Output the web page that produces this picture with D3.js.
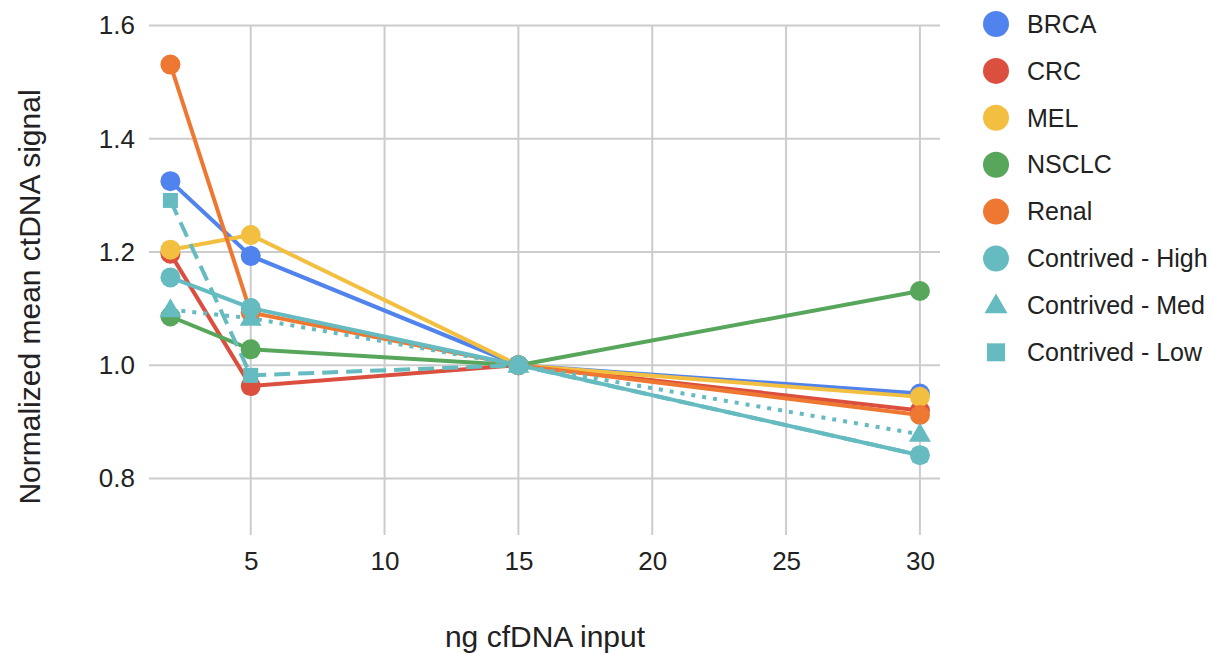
<!DOCTYPE html>
<html>
<head>
<meta charset="utf-8">
<script src="https://cdn.jsdelivr.net/npm/d3@7"></script>
<style>
  html, body { margin: 0; padding: 0; background: #fff; }
  svg { display: block; font-family: "Liberation Sans", Arial, sans-serif; }
</style>
</head>
<body>
<svg id="chart" width="1212" height="653"></svg>
<script>
const xValues = [2, 5, 15, 30];
const seriesNames = ["BRCA", "CRC", "MEL", "NSCLC", "Renal", "Contrived - High", "Contrived - Med", "Contrived - Low"];
const BRCA   = [1.325, 1.193, 1.0, 0.950];
const CRC    = [1.197, 0.963, 1.0, 0.920];
const MEL    = [1.204, 1.230, 1.0, 0.944];
const NSCLC  = [1.086, 1.028, 1.0, 1.131];
const Renal  = [1.531, 1.093, 1.0, 0.912];
const High   = [1.155, 1.101, 1.0, 0.841];
const Med    = [1.098, 1.083, 1.0, 0.878];
const Low    = [1.291, 0.982, 1.0, 0.841];
const seriesValues = [BRCA, CRC, MEL, NSCLC, Renal, High, Med, Low];
const colors = ["#5083ED", "#DB4F3F", "#F2BF40", "#57A65B", "#EE7731", "#66BBC1", "#66BBC1", "#66BBC1"];
const shapes = ["circle", "circle", "circle", "circle", "circle", "circle", "triangle", "square"];
const dashes = [null, null, null, null, null, null, "4,7", "16,8"];
const xTicks = [5, 10, 15, 20, 25, 30];
const yTicks = [0.8, 1.0, 1.2, 1.4, 1.6];
const xTitle = "ng cfDNA input";
const yTitle = "Normalized mean ctDNA signal";

(function () {
const FONT = "'Liberation Sans', Arial, sans-serif";
const svg = d3.select("#chart");
const pL = 149, pR = 940, pT = 25.5, pB = 535;
const x = d3.scaleLinear().domain([1.2, 30.75]).range([pL, pR]);
const y = d3.scaleLinear().domain([0.7, 1.6]).range([pB, pT]);

// grid
const grid = svg.append("g");
grid.selectAll("line.h").data(yTicks).join("line").attr("class", "h")
  .attr("x1", pL).attr("x2", pR)
  .attr("y1", d => y(d)).attr("y2", d => y(d))
  .attr("stroke", "#cccccc").attr("stroke-width", 2);
grid.selectAll("line.v").data(xTicks).join("line").attr("class", "v")
  .attr("x1", d => x(d)).attr("x2", d => x(d))
  .attr("y1", pT).attr("y2", pB)
  .attr("stroke", "#cccccc").attr("stroke-width", 2);

// axes (labels only)
const yAxis = svg.append("g").attr("transform", `translate(${pL},0)`)
  .call(d3.axisLeft(y).tickValues(yTicks).tickFormat(d3.format(".1f")).tickSize(0).tickPadding(14));
yAxis.attr("font-family", FONT);
yAxis.select(".domain").remove();
yAxis.selectAll("text").attr("font-size", 26).attr("fill", "#222");

const xAxis = svg.append("g").attr("transform", `translate(0,${pB})`)
  .call(d3.axisBottom(x).tickValues(xTicks).tickFormat(d3.format("d")).tickSize(0).tickPadding(17));
xAxis.attr("font-family", FONT);
xAxis.select(".domain").remove();
xAxis.selectAll("text").attr("font-size", 26).attr("fill", "#222");

// titles
svg.append("text").attr("x", 545).attr("y", 647).attr("text-anchor", "middle")
  .attr("font-family", FONT).attr("font-size", 30).attr("fill", "#222").text(xTitle);
svg.append("text").attr("transform", "translate(40,297) rotate(-90)").attr("text-anchor", "middle")
  .attr("font-family", FONT).attr("font-size", 30).attr("fill", "#222").text(yTitle);

// lines
const line = d3.line().x((d, i) => x(xValues[i])).y(d => y(d));
const plot = svg.append("g");
seriesValues.forEach((vals, s) => {
  plot.append("path").datum(vals)
    .attr("d", line)
    .attr("fill", "none")
    .attr("stroke", colors[s])
    .attr("stroke-width", 4)
    .attr("stroke-dasharray", dashes[s])
    .attr("stroke-linejoin", "round");
});

function drawMarker(g, shape, cx, cy, color, r, tri, sq) {
  if (shape === "circle") {
    g.append("circle").attr("cx", cx).attr("cy", cy).attr("r", r).attr("fill", color);
  } else if (shape === "triangle") {
    const h = tri * Math.sqrt(3) / 2;
    const pts = [[cx, cy - h * 0.6], [cx - tri / 2, cy + h * 0.4], [cx + tri / 2, cy + h * 0.4]];
    g.append("path").attr("d", "M" + pts.map(p => p.join(",")).join("L") + "Z").attr("fill", color);
  } else {
    g.append("rect").attr("x", cx - sq / 2).attr("y", cy - sq / 2).attr("width", sq).attr("height", sq).attr("fill", color);
  }
}

// points (the high-contrived circles are drawn last so they sit on top, as in the reference)
const pointOrder = [0, 1, 2, 3, 4, 7, 6, 5];
pointOrder.forEach(s => {
  seriesValues[s].forEach((v, i) => drawMarker(plot, shapes[s], x(xValues[i]), y(v), colors[s], 10, 22, 15));
});

// legend
const legend = svg.append("g");
seriesNames.forEach((name, i) => {
  const ly = 24 + i * 46.9;
  drawMarker(legend, shapes[i], 996, ly, colors[i], 13, 23, 18);
  legend.append("text").attr("x", 1027).attr("y", ly).attr("dy", "0.35em")
    .attr("font-family", FONT).attr("font-size", 25).attr("fill", "#222").text(name);
});
})();
</script>
</body>
</html>
